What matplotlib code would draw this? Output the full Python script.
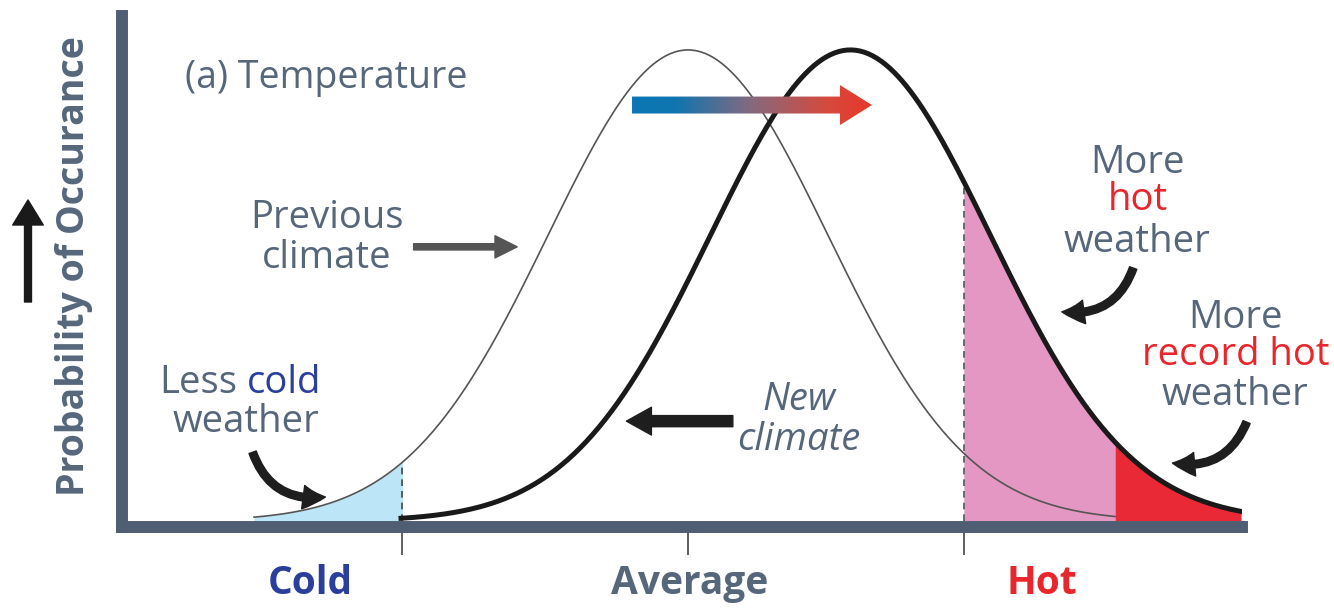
import numpy as np
import matplotlib.pyplot as plt
from matplotlib.colors import LinearSegmentedColormap
from matplotlib.patches import Polygon

plt.rcParams['font.family'] = ['Open Sans', 'DejaVu Sans']

# two bell curves, x in units of the previous climate's spread
prev_mean, prev_sd = 0.0, 1.0
new_mean, new_sd = 1.16, 1.0
prev_span = (-3.1, 3.05)
new_span = (-2.05, 3.95)

cold_cut = -2.04
hot_cut = 1.97
record_cut = 3.05

tick_pos = [cold_cut, 0.0, hot_cut]
tick_labels = ['Cold', 'Average', 'Hot']
tick_label_x = [-2.70, 0.01, 2.53]

SLATE = '#56667b'
BLUE = '#2a3f9d'
RED = '#e8262c'
AXIS = '#4f5e73'
FS = 27.5


def bell(x, mean, sd):
    return np.exp(-0.5 * ((x - mean) / sd) ** 2)


fig = plt.figure(figsize=(13.34, 6.08), dpi=100)
ax = fig.add_axes([122 / 1334, 81 / 608, 1120 / 1334, 511 / 608])

xp = np.linspace(*prev_span, 400)
xn = np.linspace(*new_span, 400)

# shaded tails
xc = np.linspace(prev_span[0], cold_cut, 100)
ax.fill_between(xc, 0, bell(xc, prev_mean, prev_sd), color='#bce5f8', lw=0, zorder=1)
xh = np.linspace(hot_cut, record_cut, 100)
ax.fill_between(xh, 0, bell(xh, new_mean, new_sd), color='#e597c3', lw=0, zorder=1)
xr = np.linspace(record_cut, new_span[1], 100)
ax.fill_between(xr, 0, bell(xr, new_mean, new_sd), color='#e92a36', lw=0, zorder=1)

ax.plot(xp, bell(xp, prev_mean, prev_sd), color='#555555', lw=1.2, zorder=3)
ax.plot(xn, bell(xn, new_mean, new_sd), color='#1a1a1a', lw=3.6, zorder=4)

ax.vlines([cold_cut], 0, bell(cold_cut, prev_mean, prev_sd), colors='#444444',
          lw=1.2, linestyles=(0, (4, 3)), zorder=2)
ax.vlines([hot_cut], 0, bell(hot_cut, new_mean, new_sd), colors='#555555',
          lw=1.2, linestyles=(0, (4, 3)), zorder=2)

# gradient shift arrow
grad = LinearSegmentedColormap.from_list(
    'shift', [(0, '#0b77b4'), (0.18, '#0f75b0'), (0.5, '#86697e'),
              (0.82, '#d64a3c'), (1, '#e8362a')])
ay, x0, tip = 0.883, -0.40, 1.314
hs, hh, hl = 0.018, 0.0425, 0.229
pts = [(x0, ay - hs), (tip - hl, ay - hs), (tip - hl, ay - hh), (tip, ay),
       (tip - hl, ay + hh), (tip - hl, ay + hs), (x0, ay + hs)]
poly = Polygon(pts, closed=True, transform=ax.transData, fc='none', ec='none')
ax.add_patch(poly)
im = ax.imshow(np.linspace(0, 1, 256)[None, :], extent=[x0, tip, ay - hh, ay + hh],
               cmap=grad, aspect='auto', zorder=5)
im.set_clip_path(poly)

ax.set_xlim(-4.043, 3.957)
ax.set_ylim(-0.0127, 1.072)

for side in ['top', 'right']:
    ax.spines[side].set_visible(False)
for side in ['left', 'bottom']:
    ax.spines[side].set_color(AXIS)
    ax.spines[side].set_linewidth(8.6)
    ax.spines[side].set_capstyle('projecting')
    ax.spines[side].set_zorder(6)

ax.set_yticks([])
ax.set_xticks(tick_pos)
ax.set_xticklabels([])
ax.tick_params(axis='x', length=20, width=1.1, color='#333333', direction='out')

for x, lab, c in zip(tick_label_x, tick_labels, [BLUE, SLATE, RED]):
    ax.text(x, -0.1096, lab, transform=ax.get_xaxis_transform(), ha='center',
            va='center', fontsize=28, fontweight='bold', color=c)

ax.text(-0.0429, 0.511, 'Probability of Occurance', transform=ax.transAxes,
        rotation=90, ha='center', va='center', fontsize=27, fontweight='bold',
        color=SLATE)
ax.annotate('', xy=(28, 408), xytext=(28, 306), xycoords='figure pixels',
            textcoords='figure pixels', annotation_clip=False,
            arrowprops=dict(arrowstyle='simple,head_width=2.2,head_length=1.8,tail_width=0.5',
                            mutation_scale=10, color='#1a1a1a', shrinkA=0, shrinkB=0))

ax.text(-3.59, 0.941, '(a) Temperature', ha='left', va='center', fontsize=27,
        color=SLATE)

# Previous climate
ax.text(-2.58, 0.643, 'Previous', ha='center', va='center', fontsize=FS, color=SLATE)
ax.text(-2.58, 0.558, 'climate', ha='center', va='center', fontsize=FS, color=SLATE)
ax.annotate('', xy=(-1.22, 0.582), xytext=(-1.96, 0.582),
            arrowprops=dict(arrowstyle='simple,head_width=1.6,head_length=1.6,tail_width=0.45',
                            mutation_scale=10, color='#555555', shrinkA=0, shrinkB=0))

# Less cold weather
ax.text(-3.22, 0.293, 'Less', ha='right', va='center', fontsize=FS, color=SLATE)
ax.text(-3.15, 0.293, 'cold', ha='left', va='center', fontsize=FS, color=BLUE)
ax.text(-3.16, 0.210, 'weather', ha='center', va='center', fontsize=FS, color=SLATE)
ax.annotate('', xy=(-2.59, 0.051), xytext=(-3.11, 0.146),
            arrowprops=dict(arrowstyle='simple,head_width=1.7,head_length=1.6,tail_width=0.55',
                            mutation_scale=10, color='#1e1e1e', shrinkA=0, shrinkB=0,
                            connectionstyle='arc3,rad=0.4'))

# New climate
ax.text(0.79, 0.257, 'New', ha='center', va='center', fontsize=FS, color=SLATE,
        style='italic')
ax.text(0.79, 0.172, 'climate', ha='center', va='center', fontsize=FS, color=SLATE,
        style='italic')
ax.annotate('', xy=(-0.44, 0.212), xytext=(0.32, 0.212),
            arrowprops=dict(arrowstyle='simple,head_width=2.0,head_length=1.8,tail_width=0.8',
                            mutation_scale=10, color='#1e1e1e', shrinkA=0, shrinkB=0))

# More hot weather
ax.text(3.21, 0.760, 'More', ha='center', va='center', fontsize=FS, color=SLATE)
ax.text(3.21, 0.682, 'hot', ha='center', va='center', fontsize=FS, color=RED)
ax.text(3.21, 0.592, 'weather', ha='center', va='center', fontsize=FS, color=SLATE)
ax.annotate('', xy=(2.67, 0.444), xytext=(3.18, 0.537),
            arrowprops=dict(arrowstyle='simple,head_width=1.7,head_length=1.6,tail_width=0.55',
                            mutation_scale=10, color='#1e1e1e', shrinkA=0, shrinkB=0,
                            connectionstyle='arc3,rad=-0.4'))

# More record hot weather
ax.text(3.91, 0.431, 'More', ha='center', va='center', fontsize=FS, color=SLATE)
ax.text(3.91, 0.352, 'record hot', ha='center', va='center', fontsize=FS, color=RED)
ax.text(3.91, 0.268, 'weather', ha='center', va='center', fontsize=FS, color=SLATE)
ax.annotate('', xy=(3.46, 0.123), xytext=(3.99, 0.210), annotation_clip=False,
            arrowprops=dict(arrowstyle='simple,head_width=1.7,head_length=1.6,tail_width=0.55',
                            mutation_scale=10, color='#1e1e1e', shrinkA=0, shrinkB=0,
                            connectionstyle='arc3,rad=-0.4'))

fig.savefig('out.png', dpi=100)
